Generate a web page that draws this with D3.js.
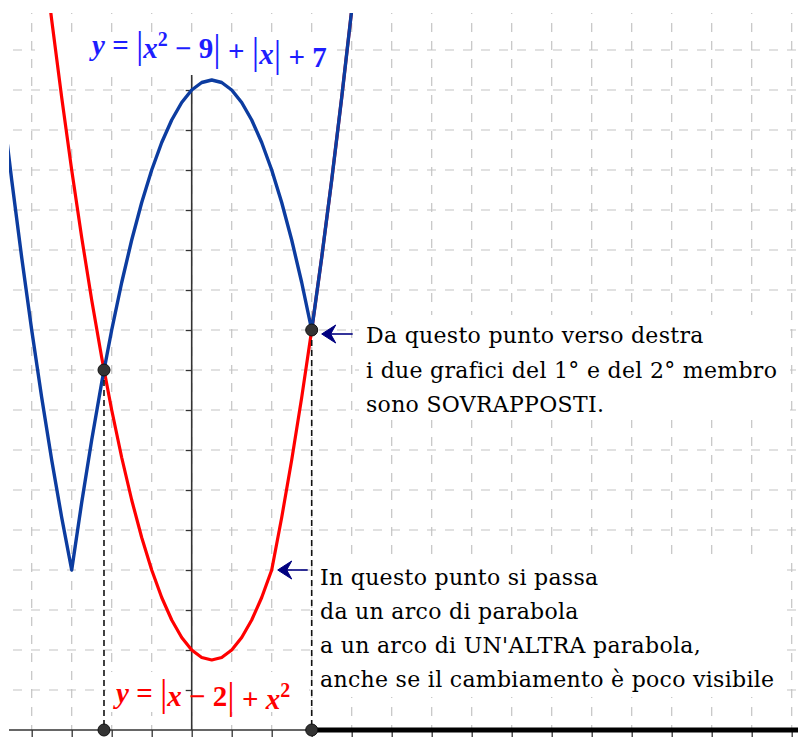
<!DOCTYPE html>
<html>
<head>
<meta charset="utf-8">
<script src="https://cdn.jsdelivr.net/npm/d3@7"></script>
<style>
  html, body { margin: 0; padding: 0; background: #ffffff; }
  svg { display: block; }
</style>
</head>
<body>
<svg id="chart" width="798" height="742"></svg>
<script>
// First member: y = |x² − 9| + x + 7, sampled every 0.25
const blueX = [-4.75, -4.5, -4.25, -4, -3.75, -3.5, -3.25, -3, -2.75, -2.5, -2.25, -2,
  -1.75, -1.5, -1.25, -1, -0.75, -0.5, -0.25, 0, 0.25, 0.5, 0.75, 1, 1.25, 1.5, 1.75,
  2, 2.25, 2.5, 2.75, 3, 3.25, 3.5, 3.75, 4, 4.25];
const blueY = [15.8125, 13.75, 11.8125, 10, 8.3125, 6.75, 5.3125, 4, 5.6875, 7.25, 8.6875, 10,
  11.1875, 12.25, 13.1875, 14, 14.6875, 15.25, 15.6875, 16, 16.1875, 16.25, 16.1875, 16, 15.6875, 15.25, 14.6875,
  14, 13.1875, 12.25, 11.1875, 10, 11.8125, 13.75, 15.8125, 18, 20.3125];

// Second member: y = |x − 2| + x², sampled every 0.25
const redX = [-3.75, -3.5, -3.25, -3, -2.75, -2.5, -2.25, -2, -1.75, -1.5, -1.25, -1,
  -0.75, -0.5, -0.25, 0, 0.25, 0.5, 0.75, 1, 1.25, 1.5, 1.75, 2, 2.25, 2.5, 2.75,
  3, 3.25, 3.5, 3.75, 4, 4.25];
const redY = [19.8125, 17.75, 15.8125, 14, 12.3125, 10.75, 9.3125, 8, 6.8125, 5.75, 4.8125, 4,
  3.3125, 2.75, 2.3125, 2, 1.8125, 1.75, 1.8125, 2, 2.3125, 2.75, 3.3125, 4, 5.3125, 6.75, 8.3125,
  10, 11.8125, 13.75, 15.8125, 18, 20.3125];

// Meeting points of the two graphs and the solution set x ≥ 3
const meetX = [-2.1926, 3];
const meetY = [9, 10];
const solutionFrom = 3;
// Point where the second member switches parabola
const switchX = 2;
const switchY = 4;

// Grid lines (units)
const gridXs = [-4, -3, -2, -1, 0, 1, 2, 3, 4, 5, 6, 7, 8, 9, 10, 11, 12, 13, 14, 15];
const gridYs = [1, 2, 3, 4, 5, 6, 7, 8, 9, 10, 11, 12, 13, 14, 15, 16, 17];

const noteTop = [
  "Da questo punto verso destra",
  "i due grafici del 1° e del 2° membro",
  "sono SOVRAPPOSTI."
];
const noteBottom = [
  "In questo punto si passa",
  "da un arco di parabola",
  "a un arco di UN'ALTRA parabola,",
  "anche se il cambiamento è poco visibile"
];

const W = 798, H = 742;
const svg = d3.select("#chart");

const x = d3.scaleLinear().domain([-4.7925, 15.1575]).range([0, W]);
const y = d3.scaleLinear().domain([-0.3, 18.25]).range([H, 0]);

const view = { left: 9, top: 13, right: W, bottom: H };

svg.append("defs").append("clipPath").attr("id", "plotClip")
  .append("rect")
  .attr("x", view.left).attr("y", view.top)
  .attr("width", view.right - view.left).attr("height", view.bottom - view.top);

const plot = svg.append("g").attr("clip-path", "url(#plotClip)");

// dashed grid
const grid = plot.append("g")
  .attr("stroke", "#c4c4c4").attr("stroke-width", 1.2)
  .attr("stroke-dasharray", "9,9").attr("fill", "none");
grid.selectAll("line.gv").data(gridXs).join("line").attr("class", "gv")
  .attr("x1", d => x(d)).attr("x2", d => x(d))
  .attr("y1", view.top).attr("y2", y(0))
  .attr("stroke-dashoffset", 8);
grid.selectAll("line.gh").data(gridYs).join("line").attr("class", "gh")
  .attr("x1", view.left).attr("x2", view.right)
  .attr("y1", d => y(d)).attr("y2", d => y(d))
  .attr("stroke-dashoffset", 14);

// white backgrounds behind the texts
const boxes = [
  [35, 36, 336, 68],
  [106, 672, 309, 712],
  [359, 315, 790, 420],
  [316, 557, 778, 697]
];
plot.append("g").selectAll("rect").data(boxes).join("rect")
  .attr("x", d => d[0]).attr("y", d => d[1])
  .attr("width", d => d[2] - d[0]).attr("height", d => d[3] - d[1])
  .attr("fill", "#ffffff");

// axes
const axisColor = "#333333";
const xAxis = d3.axisBottom(x).tickValues(gridXs).tickSize(7).tickSizeOuter(0).tickFormat("");
const gx = plot.append("g").attr("transform", `translate(0,${y(0)})`).call(xAxis);
gx.select(".domain").remove();
gx.selectAll(".tick line").attr("stroke", axisColor).attr("stroke-width", 1.3);
gx.append("line").attr("x1", view.left - 1).attr("x2", view.right)
  .attr("stroke", axisColor).attr("stroke-width", 1.6);

const yAxis = d3.axisLeft(y).tickValues(gridYs.filter(v => v <= 16)).tickSize(6).tickSizeOuter(0).tickFormat("");
const gy = plot.append("g").attr("transform", `translate(${x(0)},0)`).call(yAxis);
gy.select(".domain").remove();
gy.selectAll(".tick line").attr("stroke", axisColor).attr("stroke-width", 1.3);
gy.append("line").attr("y1", 75).attr("y2", y(0))
  .attr("stroke", axisColor).attr("stroke-width", 1.6);

// solution set on the x axis
plot.append("line")
  .attr("x1", x(solutionFrom)).attr("x2", view.right)
  .attr("y1", y(0)).attr("y2", y(0))
  .attr("stroke", "#000000").attr("stroke-width", 5);

// curves
const line = d3.line().x(d => x(d[0])).y(d => y(d[1]));
const redPts = redX.map((v, i) => [v, redY[i]]);
const bluePts = blueX.map((v, i) => [v, blueY[i]]);
plot.append("path").datum(redPts).attr("d", line)
  .attr("fill", "none").attr("stroke", "#ff0000").attr("stroke-width", 3.2)
  .attr("stroke-linejoin", "round");
plot.append("path").datum(bluePts).attr("d", line)
  .attr("fill", "none").attr("stroke", "#0c3ca0").attr("stroke-width", 3.4)
  .attr("stroke-linejoin", "round");

// dashed drop lines from the meeting points
plot.append("g").selectAll("line").data(meetX).join("line")
  .attr("x1", d => x(d)).attr("x2", d => x(d))
  .attr("y1", (d, i) => y(meetY[i])).attr("y2", y(0))
  .attr("stroke", "#111111").attr("stroke-width", 1.6)
  .attr("stroke-dasharray", "6,4");

// points
const dots = meetX.map((v, i) => [v, meetY[i]]).concat(meetX.map(v => [v, 0]));
plot.append("g").selectAll("circle").data(dots).join("circle")
  .attr("cx", d => x(d[0])).attr("cy", d => y(d[1])).attr("r", 6)
  .attr("fill", "#333333").attr("stroke", "#111111").attr("stroke-width", 1);

// arrows
function arrow(tipX, tipY, len) {
  const g = svg.append("g").attr("fill", "#000080").attr("stroke", "#000080");
  g.append("line").attr("x1", tipX + 6).attr("x2", tipX + len)
    .attr("y1", tipY).attr("y2", tipY).attr("stroke-width", 1.6);
  g.append("path")
    .attr("d", `M${tipX},${tipY} L${tipX + 14},${tipY - 9} L${tipX + 9},${tipY} L${tipX + 14},${tipY + 9} Z`)
    .attr("stroke-width", 1).attr("stroke-linejoin", "round");
}
arrow(x(meetX[1]) + 10, y(meetY[1]) + 4, 31);
arrow(x(switchX) + 6, y(switchY), 30);

// notes
const noteFont = "'DejaVu Serif', serif";
svg.append("text").attr("font-family", noteFont).attr("font-size", 22).attr("fill", "#000")
  .attr("letter-spacing", 0.3)
  .selectAll("tspan").data(noteTop).join("tspan")
  .attr("x", 366).attr("y", (d, i) => 343 + i * 34.5).text(d => d);
svg.append("text").attr("font-family", noteFont).attr("font-size", 22).attr("fill", "#000")
  .attr("letter-spacing", 0.3)
  .selectAll("tspan").data(noteBottom).join("tspan")
  .attr("x", 320).attr("y", (d, i) => 585 + i * 34).text(d => d);

// formula labels
function formula(px, py, color, parts) {
  const t = svg.append("text").attr("x", px).attr("y", py)
    .attr("font-family", "'Liberation Serif', 'Times New Roman', serif")
    .attr("font-weight", "bold").attr("font-size", 29).attr("fill", color);
  parts.forEach(p => {
    const s = t.append("tspan").text(p.t);
    if (p.i) s.attr("font-style", "italic");
    if (p.sup) s.attr("font-size", 20).attr("dy", -12);
    if (p.down) s.attr("dy", 12);
    if (p.bar) s.attr("font-weight", "normal").attr("font-size", 37).attr("dy", p.dy || 0);
    if (p.dx) s.attr("dx", p.dx);
  });
}
formula(92, 55, "#1e1eff", [
  { t: "y", i: true }, { t: " = " }, { t: "|", bar: true, dy: 3 }, { t: "x", i: true, dy: -3 },
  { t: "2", sup: true }, { t: " − ", down: true }, { t: "9" }, { t: "|", bar: true, dy: 3 },
  { t: " + ", dy: -3 }, { t: "|", bar: true, dy: 3 }, { t: "x", i: true, dy: -3 },
  { t: "|", bar: true, dy: 3 }, { t: " + 7", dy: -3 }
]);
formula(116, 703, "#ff0000", [
  { t: "y", i: true }, { t: " = " }, { t: "|", bar: true, dy: 3 }, { t: "x", i: true, dy: -3 },
  { t: " − 2" }, { t: "|", bar: true, dy: 3 }, { t: " + ", dy: -3 }, { t: "x", i: true },
  { t: "2", sup: true }
]);
</script>
</body>
</html>
